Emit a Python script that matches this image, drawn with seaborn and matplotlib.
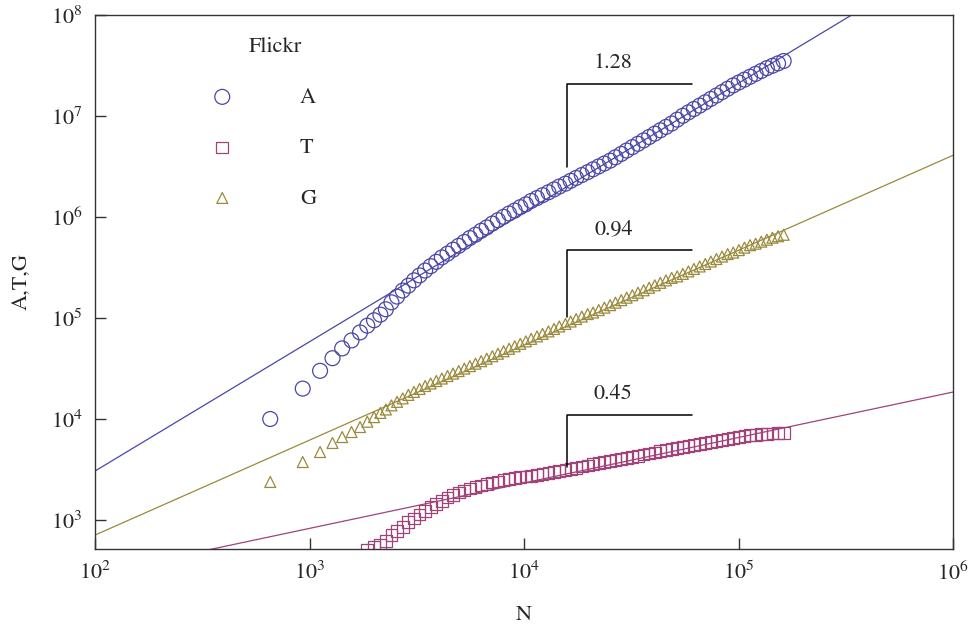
import numpy as np
import matplotlib
matplotlib.use("Agg")
import matplotlib.pyplot as plt
import seaborn as sns

# ---- data: network size N and the three growth quantities ----
N = [656, 930, 1120, 1280, 1420, 1570, 1720, 1860, 2000, 2140, 2270,
     2410, 2560, 2720, 2890, 3070, 3260, 3460, 3670, 3900, 4140, 4400, 4670,
     4960, 5270, 5590, 5940, 6310, 6700, 7120, 7560, 8030, 8520, 9050, 9610,
     10200, 10800, 11500, 12200, 13000, 13800, 14600, 15600, 16500, 17500,
     18600, 19800, 21000, 22300, 23700, 25200, 26700, 28400, 30100, 32000,
     34000, 36100, 38300, 40700, 43200, 45900, 48800, 51800, 55000, 58400,
     62000, 65900, 70000, 74300, 78900, 83800, 89000, 94500, 100400, 106600,
     113200, 120200, 127700, 135600, 144000, 152900, 162400]

A = [10000, 20000, 30000, 40000, 50000, 60000, 72000, 84000, 95000, 108000,
     122000, 143000, 163000, 187000, 209000, 236000, 264000, 295000, 326000,
     360000, 398000, 434000, 475000, 518000, 566000, 619000, 668000, 730000,
     788000, 861000, 930000, 1004000, 1084000, 1158000, 1251000, 1335000,
     1442000, 1540000, 1644000, 1756000, 1875000, 2002000, 2138000, 2283000,
     2437000, 2603000, 2780000, 2969000, 3168000, 3383000, 3613000, 3902000,
     4213000, 4551000, 4914000, 5308000, 5733000, 6192000, 6687000, 7221000,
     7801000, 8424000, 9203000, 10050000, 10860000, 11730000, 12670000,
     13680000, 14770000, 15950000, 17230000, 18610000, 20100000, 21470000,
     22920000, 24460000, 26130000, 27890000, 29790000, 31450000, 33200000,
     35040000]

# the smallest networks have T below the plotted range
T = [np.nan, np.nan, np.nan, np.nan, np.nan, np.nan, np.nan, 505, 541, 566,
     620, 710, 778, 851, 956, 1035, 1134, 1228, 1345, 1439, 1541, 1668, 1766,
     1874, 1960, 2051, 2121, 2194, 2270, 2349, 2408, 2491, 2548, 2605, 2647,
     2694, 2725, 2786, 2850, 2922, 2988, 3063, 3140, 3219, 3299, 3382, 3467,
     3554, 3643, 3734, 3828, 3924, 4023, 4124, 4227, 4333, 4442, 4554, 4667,
     4785, 4904, 5028, 5154, 5284, 5416, 5552, 5692, 5821, 5954, 6090, 6229,
     6369, 6507, 6648, 6792, 6900, 6990, 7070, 7140, 7200, 7250, 7300]

G = [2380, 3750, 4710, 5790, 6630, 7430, 8330, 9400, 10440, 11490, 12420,
     13650, 14780, 16000, 17330, 18540, 19850, 21240, 22480, 23780, 25170,
     26630, 28180, 29820, 31550, 33390, 35330, 37380, 39560, 41850, 44290,
     46860, 49590, 52470, 55520, 58750, 62170, 65780, 69610, 73660, 77950,
     82470, 87280, 92350, 97720, 103400, 109400, 113200, 119800, 126700,
     134100, 141900, 150200, 158900, 168100, 177900, 188200, 199200, 210800,
     223000, 236000, 249700, 258300, 273300, 289200, 306000, 323800, 342600,
     362500, 383600, 406000, 429500, 444300, 470100, 497500, 526400, 544500,
     569500, 596000, 623400, 644800, 666800]

series = ["A", "T", "G"]
values = {"A": A, "T": T, "G": G}

# power-law fits y = coef * N ** slope
fit_slope = {"A": 1.28, "T": 0.45, "G": 0.94}
fit_coef = {"A": 8.41, "T": 36.9, "G": 9.35}
fit_range = [1e2, 1e6]

x_ticks = [1e2, 1e3, 1e4, 1e5, 1e6]
x_ticklabels = [r"$\mathrm{10^{2}}$", r"$\mathrm{10^{3}}$", r"$\mathrm{10^{4}}$",
                r"$\mathrm{10^{5}}$", r"$\mathrm{10^{6}}$"]
y_ticks = [1e3, 1e4, 1e5, 1e6, 1e7, 1e8]
y_ticklabels = [r"$\mathrm{10^{3}}$", r"$\mathrm{10^{4}}$", r"$\mathrm{10^{5}}$",
                r"$\mathrm{10^{6}}$", r"$\mathrm{10^{7}}$", r"$\mathrm{10^{8}}$"]

# ---- styling ----
colors = {"A": "#4a47a6", "T": "#a0437a", "G": "#9a8a3c"}
markers = {"A": "o", "T": "s", "G": "^"}
msizes = {"A": 115, "T": 72, "G": 62}

# slope guides: corner bracket plus the fitted exponent above it
brackets = {
    "A": dict(x0=15800, x1=60400, y0=3.13e6, y1=2.07e7, ty=3.35e7),
    "G": dict(x0=15800, x1=60400, y0=1.02e5, y1=4.71e5, ty=7.6e5),
    "T": dict(x0=15800, x1=60400, y0=3350, y1=1.10e4, ty=1.77e4),
}
bracket_text_x = 26100

sns.set_style("white")
plt.rcParams["font.family"] = ["STIXGeneral", "DejaVu Serif"]
plt.rcParams["mathtext.fontset"] = "stix"

FS = 16

fig = plt.figure(figsize=(9.73, 6.3), dpi=100)
ax = fig.add_axes([95 / 973, 1 - 549 / 630, 858 / 973, 534 / 630])
ax.set_xscale("log")
ax.set_yscale("log")

for s in series:
    xs = np.array(fit_range)
    ys = fit_coef[s] * xs ** fit_slope[s]
    sns.lineplot(x=xs, y=ys, color=colors[s], linewidth=0.9, ax=ax,
                 legend=False, zorder=2)

for s in series:
    sns.scatterplot(x=N, y=values[s], marker=markers[s], s=msizes[s],
                    facecolor="none", edgecolor=colors[s], linewidth=0.9,
                    label=s, ax=ax, zorder=3)

for s, b in brackets.items():
    ax.plot([b["x0"], b["x0"], b["x1"]], [b["y0"], b["y1"], b["y1"]],
            color="black", linewidth=1.1, zorder=4)
    ax.text(bracket_text_x, b["ty"], f"{fit_slope[s]:.2f}", fontsize=FS,
            ha="center", va="center")

ax.set_xlim(1e2, 1e6)
ax.set_ylim(10 ** 2.713, 1e8)
ax.set_xticks(x_ticks)
ax.set_xticklabels(x_ticklabels)
ax.set_yticks(y_ticks)
ax.set_yticklabels(y_ticklabels)
ax.minorticks_off()
ax.tick_params(axis="both", which="major", direction="in", length=8,
               width=1.0, color="#333333", labelsize=FS, pad=9,
               bottom=True, left=True, top=False, right=False)

for sp in ax.spines.values():
    sp.set_visible(True)
    sp.set_color("#333333")
    sp.set_linewidth(1.0)

ax.set_xlabel("N", fontsize=FS)
ax.xaxis.set_label_coords(0.5, -0.1236)
ax.xaxis.label.set_verticalalignment("center")
ax.set_ylabel("A,T,G", fontsize=FS)
ax.yaxis.set_label_coords(-0.0851, 0.5)
ax.yaxis.label.set_verticalalignment("center")

handles, labels = ax.get_legend_handles_labels()
ax.legend(handles, labels, loc="center left", bbox_to_anchor=(0.1224, 0.751),
          frameon=False, fontsize=FS, labelspacing=1.35, handlelength=2.0,
          handletextpad=2.5, borderpad=0, borderaxespad=0)
ax.text(0.2098, 0.940, "Flickr", transform=ax.transAxes, fontsize=FS,
        ha="center", va="center")

fig.savefig("out.png", dpi=100)
